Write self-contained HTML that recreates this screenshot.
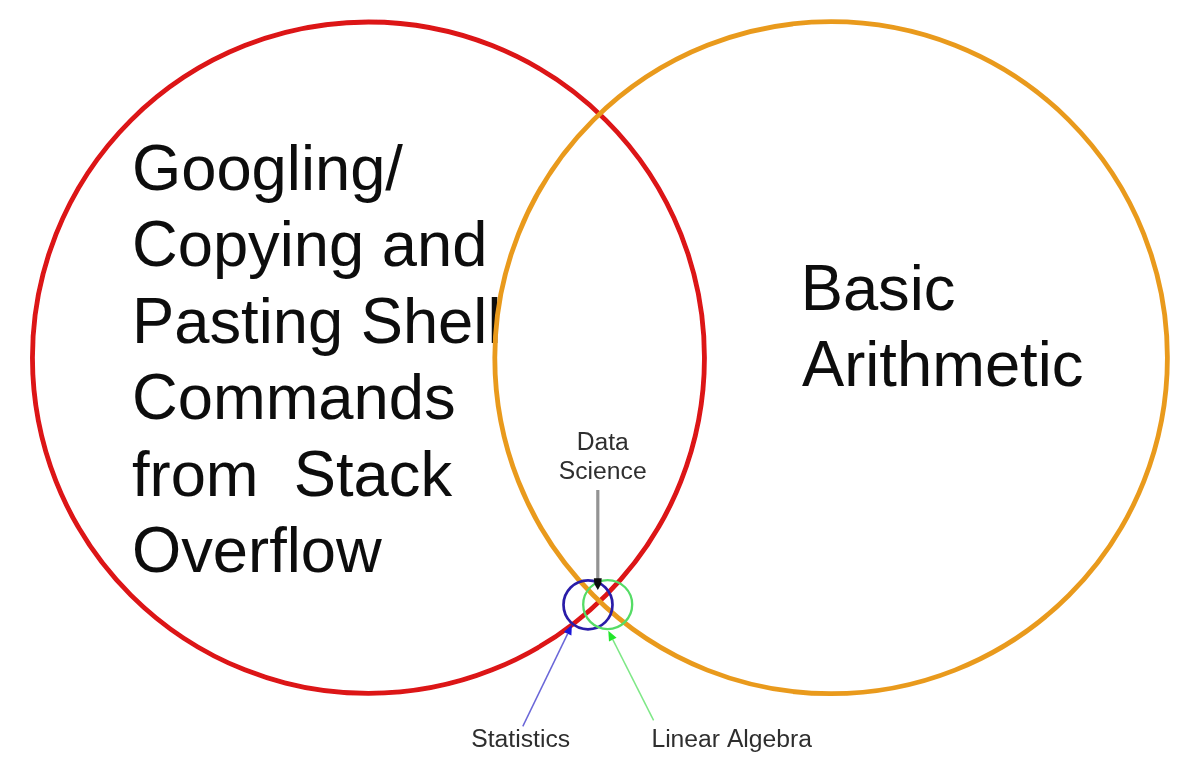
<!DOCTYPE html>
<html>
<head>
<meta charset="utf-8">
<title>Data Science Venn Diagram</title>
<style>
  html, body { margin: 0; padding: 0; background: #ffffff; }
  body { width: 1198px; height: 768px; overflow: hidden; font-family: "Liberation Sans", sans-serif; }
  svg { display: block; }
  text { font-family: "Liberation Sans", sans-serif; }
  .big { font-size: 63.3px; fill: #0a0a0a; }
  .small { font-size: 24.7px; fill: #2e2e2e; }
</style>
</head>
<body>
<svg width="1198" height="768" viewBox="0 0 1198 768">
  <rect x="0" y="0" width="1198" height="768" fill="#ffffff"/>
  <defs><filter id="soft" x="-5%" y="-5%" width="110%" height="110%"><feGaussianBlur stdDeviation="0.7"/></filter></defs>
  <g filter="url(#soft)">
    <!-- large labels (Googling/ Copying and Pasting Shell Commands from  Stack Overflow ; Basic Arithmetic) -->
    <text class="big" transform="translate(132.00,189.8) scale(1,1.035)" xml:space="preserve">G</text>
    <text class="big" x="181.23" y="189.8" xml:space="preserve">oogling/</text>
    <text class="big" transform="translate(132.00,266.3) scale(1,1.035)" xml:space="preserve">C</text>
    <text class="big" x="177.71" y="266.3" xml:space="preserve">opying and</text>
    <text class="big" transform="translate(132.00,342.7) scale(1,1.035)" xml:space="preserve">P</text>
    <text class="big" x="174.22" y="342.7" xml:space="preserve">asting </text>
    <text class="big" transform="translate(360.71,342.7) scale(1,1.035)" xml:space="preserve">S</text>
    <text class="big" x="402.93" y="342.7" xml:space="preserve">hell</text>
    <text class="big" transform="translate(132.00,419.2) scale(1,1.035)" xml:space="preserve">C</text>
    <text class="big" x="177.71" y="419.2" xml:space="preserve">ommands</text>
    <text class="big" x="132.00" y="495.6" xml:space="preserve">from  </text>
    <text class="big" transform="translate(293.77,495.6) scale(1,1.035)" xml:space="preserve">S</text>
    <text class="big" x="335.98" y="495.6" xml:space="preserve">tack</text>
    <text class="big" transform="translate(132.00,572.0) scale(1,1.035)" xml:space="preserve">O</text>
    <text class="big" x="181.23" y="572.0" xml:space="preserve">verflow</text>
    <text class="big" transform="translate(800.70,310.2) scale(1,1.035)" xml:space="preserve">B</text>
    <text class="big" x="842.92" y="310.2" xml:space="preserve">asic</text>
    <text class="big" transform="translate(802.00,386.0) scale(1,1.035)" xml:space="preserve">A</text>
    <text class="big" x="844.22" y="386.0" xml:space="preserve">rithmetic</text>

    <!-- big circles -->
    <ellipse cx="368.45" cy="357.7" rx="336" ry="335.7" fill="none" stroke="#dc1218" stroke-width="4.8"/>
    <ellipse cx="831.1" cy="357.7" rx="336.3" ry="336" fill="none" stroke="#e99a1e" stroke-width="4.8"/>

    <!-- small circles -->
    <circle cx="588" cy="604.8" r="24.5" fill="none" stroke="#2a1fa8" stroke-width="2.7"/>
    <circle cx="607.7" cy="604.6" r="24.5" fill="none" stroke="#55dc66" stroke-width="2.3"/>

    <!-- small labels (Data Science, Statistics, Linear Algebra) -->
    <text class="small" transform="translate(576.63,450.1) scale(1,1.01)" xml:space="preserve">D</text>
    <text class="small" x="594.45" y="450.1" xml:space="preserve">ata</text>
    <text class="small" transform="translate(558.79,478.7) scale(1,1.01)" xml:space="preserve">S</text>
    <text class="small" x="575.25" y="478.7" xml:space="preserve">cience</text>
    <text class="small" transform="translate(471.30,747.0) scale(1,1.01)" xml:space="preserve">S</text>
    <text class="small" x="487.77" y="747.0" xml:space="preserve">tatistics</text>
    <text class="small" transform="translate(651.40,747.0) scale(1,1.01)" xml:space="preserve">L</text>
    <text class="small" x="665.13" y="747.0" xml:space="preserve">inear </text>
    <text class="small" transform="translate(726.88,747.0) scale(1,1.01)" xml:space="preserve">A</text>
    <text class="small" x="743.35" y="747.0" xml:space="preserve">lgebra</text>

    <!-- grey arrow -->
    <line x1="597.8" y1="490" x2="597.8" y2="580" stroke="#939393" stroke-width="3.2"/>
    <polygon points="593.9,578.2 601.7,578.2 601.2,584 597.8,590 594.4,584" fill="#0a0a0a"/>

    <!-- blue arrow -->
    <line x1="522.8" y1="726.4" x2="567.6" y2="633.8" stroke="#6a66d8" stroke-width="1.5"/>
    <polygon points="571.9,624.8 571.4,635.6 563.8,632" fill="#1c18d8"/>

    <!-- green arrow -->
    <line x1="653.6" y1="720.3" x2="612.8" y2="639.7" stroke="#7ee886" stroke-width="1.5"/>
    <polygon points="608.3,630.8 616.6,637.8 609,641.6" fill="#22e62a"/>
  </g>
</svg>
</body>
</html>
